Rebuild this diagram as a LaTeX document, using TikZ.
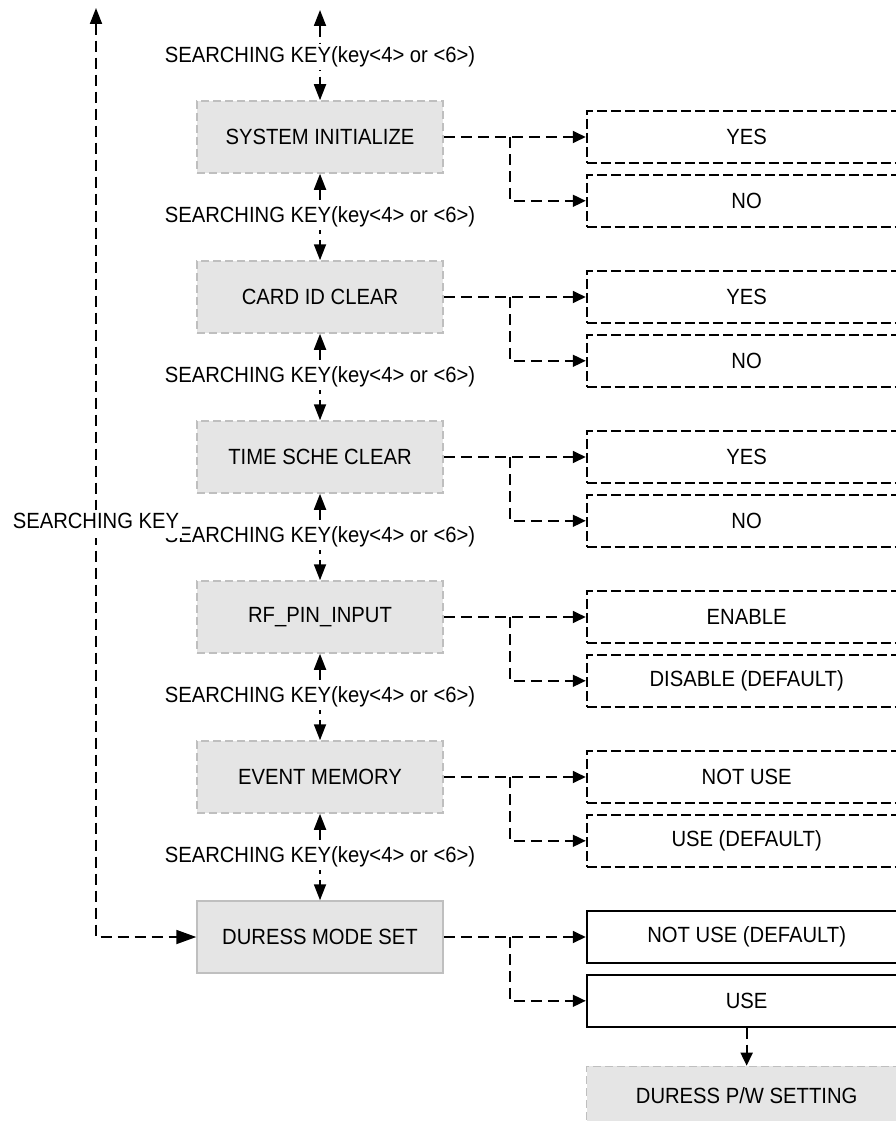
\documentclass[tikz,border=0pt]{standalone}
\usepackage{fontspec}
\setmainfont{Liberation Sans}[FakeStretch=0.92]
\usetikzlibrary{positioning,arrows.meta}

\tikzset{
	mainbox/.style={draw=black!25,fill=black!10,line width=1.5pt,dash pattern=on 8pt off 4pt,minimum width=246pt,minimum height=72pt},
	optbox/.style={draw,line width=1.8pt,dash pattern=on 10pt off 4pt,minimum width=320pt,minimum height=52pt},
	conn/.style={line width=1.8pt,dash pattern=on 11pt off 6pt},
	keylbl/.style={fill=white,inner sep=3pt},
	tipv/.tip={Triangle[length=16pt,width=12pt]},
	tiph/.tip={Triangle[length=13pt,width=12pt]}
}

\begin{document}
\begin{tikzpicture}[x=1pt,y=-1pt,every node/.style={font=\fontsize{22}{26}\selectfont}]
\useasboundingbox (0,0) rectangle (896,1121);
\clip (0,0) rectangle (896,1121);

\foreach \i/\t/\y in {1/SYSTEM INITIALIZE/137,2/CARD ID CLEAR/297,3/TIME SCHE CLEAR/457,4/RF\_PIN\_INPUT/617,5/EVENT MEMORY/777}
	\node[mainbox] (m\i) at (320,\y) {\t};
\node[mainbox,solid] (m6) at (320,937) {DURESS MODE SET};

\foreach \i/\a/\b in {1/YES/NO,2/YES/NO,3/YES/NO,4/ENABLE/DISABLE (DEFAULT),5/NOT USE/USE (DEFAULT)}{
	\node[optbox,right=142pt of m\i] (a\i) {\a};
	\node[optbox,below=10pt of a\i] (b\i) {\b};
}
\node[optbox,solid,right=142pt of m6] (a6) {NOT USE (DEFAULT)};
\node[optbox,solid,below=10pt of a6] (b6) {USE};
\node[mainbox,minimum width=320pt,minimum height=58pt,below=38pt of b6] (pw) {DURESS P/W SETTING};

\foreach \i in {1,...,6}{
	\coordinate[right=66pt of m\i.east] (s\i);
	\draw[conn,-tiph] (m\i) -- (a\i);
	\draw[conn,-tiph] (s\i) |- (b\i);
}
\draw[conn,-tiph] (b6) -- (pw);

\coordinate (t) at (320,10);
\draw[conn,tipv-tipv] (t) -- (m1);
\foreach \i/\j in {1/2,2/3,3/4,4/5,5/6}
	\draw[conn,tipv-tipv] (m\i) -- (m\j);
\coordinate (l) at (96,8);
\draw[conn,tipv-{Triangle[length=20pt,width=14pt]}] (l) |- (m6);

\foreach \i/\y in {1/137,2/297,3/457,4/617,5/777,6/937}
	\node[keylbl] (k\i) at (320,\y-80) {SEARCHING KEY(key<4> or <6>)};
\node[keylbl,text depth=6pt] (kl) at (96,524) {SEARCHING KEY};
\end{tikzpicture}
\end{document}
